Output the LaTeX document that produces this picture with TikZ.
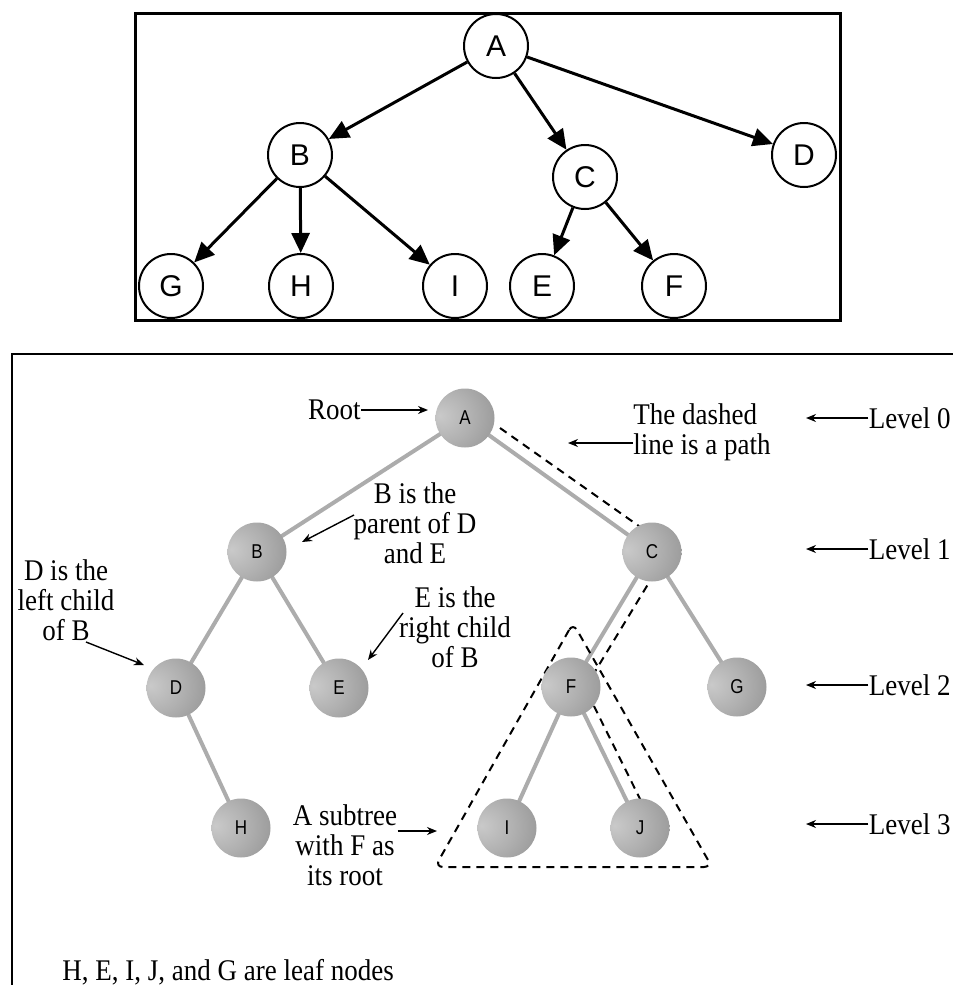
\documentclass[tikz,border=0pt]{standalone}
\usepackage{fontspec}
\setmainfont{Liberation Serif}[FakeStretch=0.9]
\setsansfont{Liberation Sans}
\newfontfamily\ballfont{Liberation Sans}[FakeStretch=0.85]
\usetikzlibrary{arrows.meta}

\pgfdeclareradialshading{sphere}{\pgfpoint{-22bp}{2bp}}{%
    color(0bp)=(gray!42);
    color(22bp)=(gray!62);
    color(48bp)=(gray!88);
    color(72bp)=(gray!75!black);
    color(80bp)=(gray!75!black)}

\begin{document}
\begin{tikzpicture}[
    x=0.5pt, y=-0.5pt,
    >=stealth,
    plain/.style={
        draw=black,
        circle,
        line width=1pt,
        minimum size=32pt,
        inner sep=0pt,
        fill=white,
        font=\sffamily\fontsize{15}{18}\selectfont
    },
    ball/.style={
        circle,
        shading=sphere,
        minimum size=29.5pt,
        inner sep=0pt,
        font=\ballfont\fontsize{10}{11}\selectfont
    },
    arr/.style={-{Triangle[length=10pt,width=9pt]}, line width=1.5pt},
    link/.style={draw=gray!65, line width=2pt},
    note/.style={align=center, inner sep=0pt, font=\fontsize{15}{15}\selectfont},
    pointer/.style={-{Stealth[length=5pt,width=4pt]}, line width=0.7pt},
    frame/.style={line width=1.5pt}
]
\useasboundingbox (0,0) rectangle (953,985);

% upper tree
\draw[frame] (135,13) rectangle (840,320);

\node[plain] (tA) at (496,46) {A};
\node[plain] (tB) at (300,155) {B};
\node[plain] (tC) at (585,177) {C};
\node[plain] (tD) at (804,155) {D};
\node[plain] (tG) at (171,286) {G};
\node[plain] (tH) at (301,286) {H};
\node[plain] (tI) at (455,286) {I};
\node[plain] (tE) at (542,286) {E};
\node[plain] (tF) at (674,286) {F};

\draw[arr] (tA) -- (tB);
\draw[arr] (tA) -- (tC);
\draw[arr] (tA) -- (tD);
\draw[arr] (tB) -- (tG);
\draw[arr] (tB) -- (tH);
\draw[arr] (tB) -- (tI);
\draw[arr] (tC) -- (tE);
\draw[arr] (tC) -- (tF);

% lower tree
\draw[line width=1.2pt] (12,985) -- (12,354) -- (953,354);

\coordinate (bA) at (465,418);
\coordinate (bB) at (257,552);
\coordinate (bC) at (652,552);
\coordinate (bD) at (176,688);
\coordinate (bE) at (339,688);
\coordinate (bF) at (571,687);
\coordinate (bG) at (737,687);
\coordinate (bH) at (241,828);
\coordinate (bI) at (507,828);
\coordinate (bJ) at (640,828);

\draw[link] (bA) -- (bB);
\draw[link] (bA) -- (bC);
\draw[link] (bB) -- (bD);
\draw[link] (bB) -- (bE);
\draw[link] (bC) -- (bF);
\draw[link] (bC) -- (bG);
\draw[link] (bD) -- (bH);
\draw[link] (bF) -- (bI);
\draw[link] (bF) -- (bJ);

% the path and the subtree
\coordinate (p1) at (500,428);
\coordinate (p2) at (670,548);
\coordinate (p3) at (585,688);
\coordinate (p4) at (648,815);
\draw[dashed, line width=1pt, dash pattern=on 4pt off 3pt] (p1) -- (p2) -- (p3) -- (p4);

\coordinate (s1) at (573,623);
\coordinate (s2) at (435,867);
\coordinate (s3) at (712,867);
\draw[dashed, line width=1pt, dash pattern=on 4pt off 3pt, rounded corners=4pt] (s1) -- (s2) -- (s3) -- cycle;

\node[ball] (nA) at (bA) {A};
\node[ball] (nB) at (bB) {B};
\node[ball] (nC) at (bC) {C};
\node[ball] (nD) at (bD) {D};
\node[ball] (nE) at (bE) {E};
\node[ball] (nF) at (bF) {F};
\node[ball] (nG) at (bG) {G};
\node[ball] (nH) at (bH) {H};
\node[ball] (nI) at (bI) {I};
\node[ball] (nJ) at (bJ) {J};

% notes
\node[note, anchor=east] (root) at (361,410) {Root};
\coordinate (rootend) at (428,410);
\draw[pointer] (root.east |- rootend) -- (rootend);

\node[note, align=left, anchor=west] (pathtxt) at (633,432) {The dashed\\line is a path};
\coordinate (pathend) at (568,443);
\draw[pointer] (pathtxt.west |- pathend) -- (pathend);

\node[note] (parent) at (415,523) {B is the\\parent of D\\and E};
\coordinate (parentfrom) at (354,515);
\coordinate (parentend) at (302,542);
\draw[pointer] (parentfrom) -- (parentend);

\node[note] (leftchild) at (66,600) {D is the\\left child\\of B};
\coordinate (leftfrom) at (86,642);
\coordinate (leftend) at (144,665);
\draw[pointer] (leftfrom) -- (leftend);

\node[note] (rightchild) at (455,627) {E is the\\right child\\of B};
\coordinate (rightfrom) at (403,613);
\coordinate (rightend) at (368,660);
\draw[pointer] (rightfrom) -- (rightend);

\node[note] (subtree) at (345,845) {A subtree\\with F as\\its root};
\coordinate (subtreeend) at (437,831);
\draw[pointer] (subtree.east |- subtreeend) -- (subtreeend);

\node[note, anchor=west] (leaves) at (62,972) {H, E, I, J, and G are leaf nodes};

% levels
\foreach \lev/\ypos in {0/418, 1/549, 2/685, 3/824} {
    \node[note, anchor=east] (lev\lev) at (951,\ypos) {Level \lev};
    \coordinate (levend\lev) at (806,\ypos);
    \draw[pointer] (lev\lev.west) -- (levend\lev);
}

\end{tikzpicture}
\end{document}
